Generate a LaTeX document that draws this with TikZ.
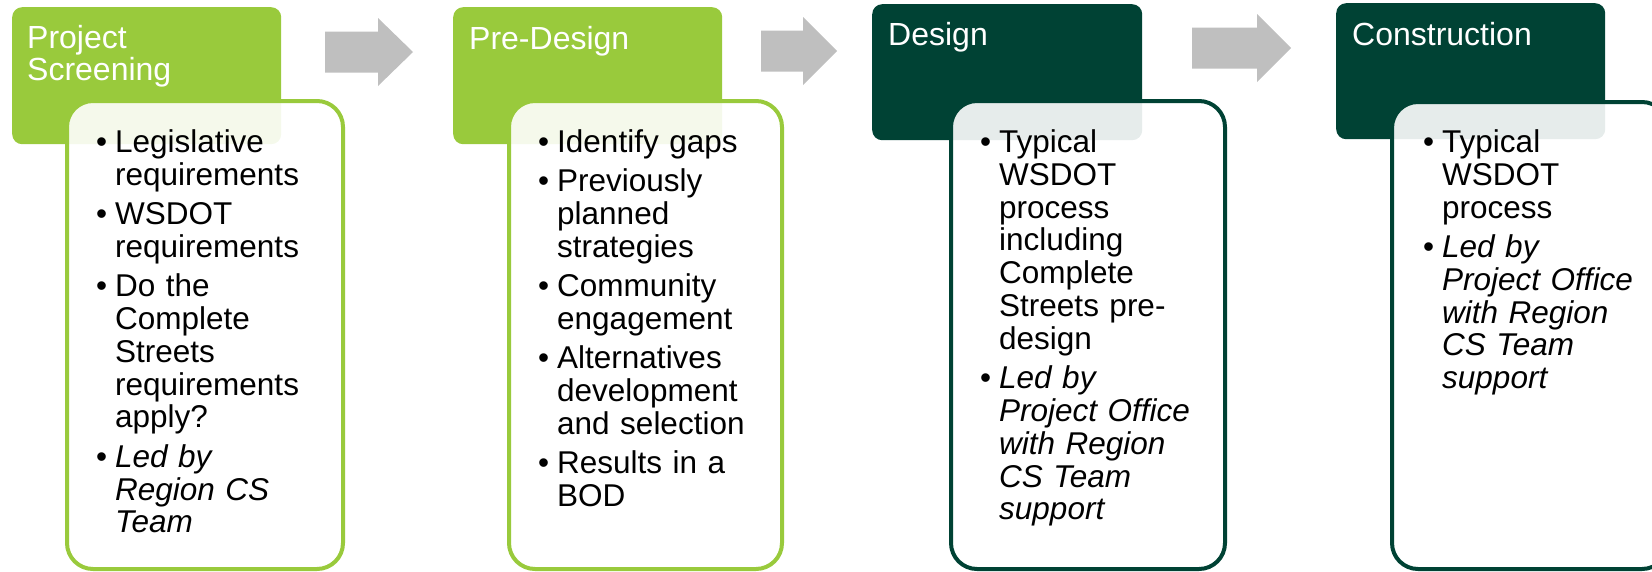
\documentclass[tikz,border=0pt]{standalone}
\usepackage{fontspec}
\setmainfont{Liberation Sans}
\usepackage{enumitem}
\usepackage{tikz}
\definecolor{stagelight}{HTML}{99CA3C}
\definecolor{stagedark}{HTML}{004234}
\definecolor{arrowgray}{HTML}{BFBFBF}
\tikzset{
  headbox/.style  = {rounded corners=10pt,inner sep=0pt,anchor=north west},
  bodybox/.style  = {rounded corners=26pt,line width=4pt,fill=white,fill opacity=0.9,inner sep=0pt,anchor=north west},
  headtext/.style = {anchor=north west,inner sep=0pt,align=left,text=white,font=\fontsize{32}{32}\selectfont},
  bodytext/.style = {anchor=north west,inner sep=0pt,text width=250pt,font=\fontsize{31.5}{32.8}\selectfont}
}
\newlist{stagelist}{itemize}{1}
\setlist[stagelist]{label=\textbullet,leftmargin=20pt,labelsep=8pt,itemsep=6.5pt,parsep=0pt,topsep=0pt,partopsep=0pt}
\newcommand{\stagearrow}[4]{% tail x, head x, tip x, middle y
  \fill[arrowgray] (#1,#4-20.5) -- (#2,#4-20.5) -- (#2,#4-34) -- (#3,#4)
    -- (#2,#4+34) -- (#2,#4+20.5) -- (#1,#4+20.5) -- cycle;
}

\begin{document}
\begin{tikzpicture}[x=1pt,y=-1pt]
  \useasboundingbox (0,0) rectangle (1652,571);
  % stage headers
  \node[headbox,fill=stagelight,minimum width=269pt,minimum height=137pt] (head1) at (12,7) {};
  \node[headbox,fill=stagelight,minimum width=269pt,minimum height=137pt] (head2) at (453,7) {};
  \node[headbox,fill=stagedark,minimum width=270pt,minimum height=136pt] (head3) at (872,4) {};
  \node[headbox,fill=stagedark,minimum width=269pt,minimum height=136pt] (head4) at (1336,3) {};
  \node[headtext] (title1) at (27,25.5) {Project\\Screening};
  \node[headtext] (title2) at (469,26.5) {Pre-Design};
  \node[headtext] (title3) at (888,22.5) {Design};
  \node[headtext] (title4) at (1352,22) {Construction};
  % white boxes
  \node[bodybox,draw=stagelight,minimum width=276pt,minimum height=468pt] (body1) at (65,99) {};
  \node[bodybox,draw=stagelight,minimum width=273pt,minimum height=468pt] (body2) at (507,99) {};
  \node[bodybox,draw=stagedark,minimum width=274pt,minimum height=468pt] (body3) at (949,99) {};
  \node[bodybox,draw=stagedark,minimum width=276pt,minimum height=467pt] (body4) at (1390,100) {};
  \node[bodytext] (list1) at (95,119.5) {\begin{stagelist}
    \item Legislative\\requirements
    \item WSDOT\\requirements
    \item Do the\\Complete\\Streets\\requirements\\apply?
    \item \textit{Led by\\Region CS\\Team}
  \end{stagelist}};
  \node[bodytext] (list2) at (537,119.5) {\begin{stagelist}
    \item Identify gaps
    \item Previously\\planned\\strategies
    \item Community\\engagement
    \item Alternatives\\development\\and selection
    \item Results in a\\BOD
  \end{stagelist}};
  \node[bodytext] (list3) at (979,119.5) {\begin{stagelist}
    \item Typical\\WSDOT\\process\\including\\Complete\\Streets pre-\\design
    \item \textit{Led by\\Project Office\\with Region\\CS Team\\support}
  \end{stagelist}};
  \node[bodytext] (list4) at (1422,119.5) {\begin{stagelist}
    \item Typical\\WSDOT\\process
    \item \textit{Led by\\Project Office\\with Region\\CS Team\\support}
  \end{stagelist}};
  % arrows between stages
  \stagearrow{325}{378}{413}{52}
  \stagearrow{761}{803}{837}{51}
  \stagearrow{1192}{1257}{1291}{48}
\end{tikzpicture}
\end{document}
